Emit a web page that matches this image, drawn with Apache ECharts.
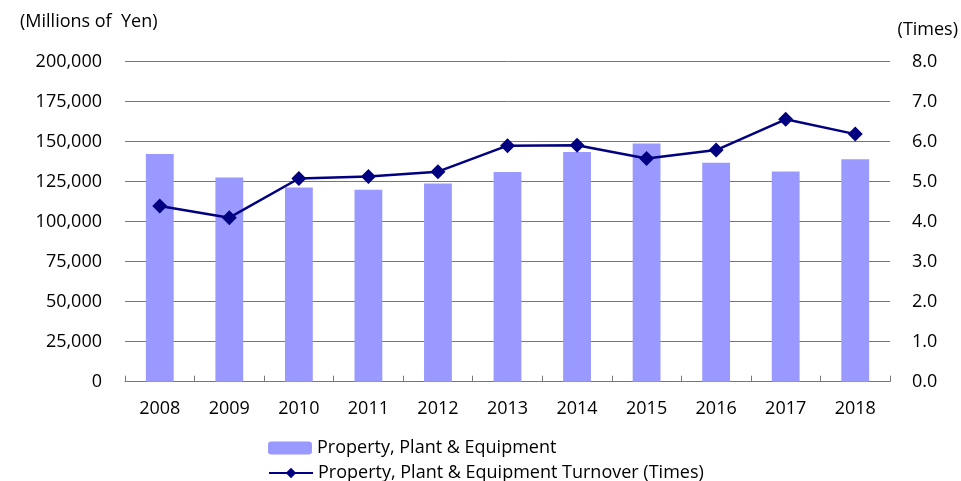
<!DOCTYPE html>
<html>
<head>
<meta charset="utf-8">
<script src="https://cdn.jsdelivr.net/npm/echarts@6/dist/echarts.min.js"></script>
<style>
  html, body { margin: 0; padding: 0; background: #fff; }
  #chart { width: 961px; height: 481px; }
</style>
</head>
<body>
<div id="chart"></div>
<script>
// data
var years = ['2008', '2009', '2010', '2011', '2012', '2013', '2014', '2015', '2016', '2017', '2018']
var ppe = [142300, 127700, 121300, 120000, 123800, 131000, 143600, 148800, 136900, 131300, 139000]
var turnover = [4.39, 4.10, 5.08, 5.13, 5.25, 5.90, 5.91, 5.58, 5.79, 6.56, 6.19]
var leftTicks = { min: 0, max: 200000, step: 25000 }
var rightTicks = { min: 0, max: 8, step: 1 }

var barName = 'Property, Plant & Equipment'
var lineName = 'Property, Plant & Equipment Turnover (Times)'
var font = 'Open Sans'
var chart = echarts.init(document.getElementById('chart'))

// one legend per row, stacked like the original
function legendRow (name, top) {
  return {
    orient: 'horizontal',
    left: 263,
    top: top,
    itemWidth: 44,
    itemHeight: 13,
    textStyle: { fontFamily: font, fontSize: 18, color: '#000' },
    data: [{ name: name }]
  }
}

var option = {
  animation: false,
  textStyle: { fontFamily: font },
  grid: { left: 125, right: 71, top: 61.7, bottom: 99.3, containLabel: false },
  legend: [legendRow(barName, 434), legendRow(lineName, 459)],
  graphic: [
    { type: 'text', left: 20, top: 13, style: { text: '(Millions of  Yen)', font: '18px "Open Sans"', fill: '#000' } },
    { type: 'text', right: 3, top: 21, style: { text: '(Times)', font: '18px "Open Sans"', fill: '#000' } }
  ],
  xAxis: {
    type: 'category',
    data: years,
    boundaryGap: true,
    axisLine: { show: true, lineStyle: { color: '#777', width: 1 } },
    axisTick: { show: true, inside: true, length: 6, lineStyle: { color: '#777' } },
    axisLabel: { color: '#000', fontSize: 18, margin: 18, fontFamily: font },
    splitLine: { show: false }
  },
  yAxis: [
    {
      type: 'value',
      min: leftTicks.min,
      max: leftTicks.max,
      interval: leftTicks.step,
      axisLine: { show: false },
      axisTick: { show: false },
      axisLabel: {
        color: '#000', fontSize: 18, margin: 23, fontFamily: font,
        formatter: function (v) { return v.toLocaleString('en-US') }
      },
      splitLine: { show: true, lineStyle: { color: '#777', width: 1 } }
    },
    {
      type: 'value',
      min: rightTicks.min,
      max: rightTicks.max,
      interval: rightTicks.step,
      position: 'right',
      axisLine: { show: false },
      axisTick: { show: false },
      axisLabel: {
        color: '#000', fontSize: 18, margin: 22, fontFamily: font,
        formatter: function (v) { return v.toFixed(1) }
      },
      splitLine: { show: false }
    }
  ],
  series: [
    {
      name: barName,
      type: 'bar',
      yAxisIndex: 0,
      barWidth: '40%',
      itemStyle: { color: '#9999ff' },
      data: ppe
    },
    {
      name: lineName,
      type: 'line',
      yAxisIndex: 1,
      symbol: 'diamond',
      symbolSize: 15,
      lineStyle: { color: '#000080', width: 2.5 },
      itemStyle: { color: '#000080' },
      data: turnover
    }
  ]
}

chart.setOption(option)
</script>
</body>
</html>
